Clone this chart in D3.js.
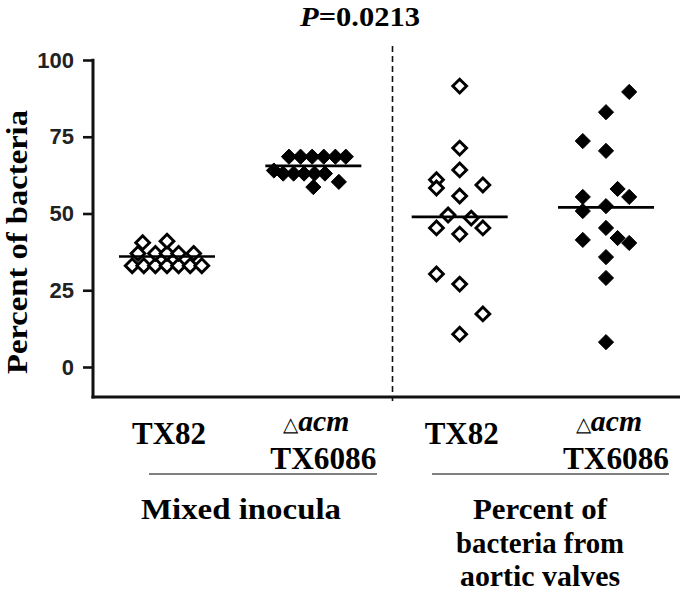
<!DOCTYPE html>
<html><head><meta charset="utf-8">
<script src="https://cdn.jsdelivr.net/npm/d3@7"></script>
<style>body{margin:0;background:#fff}svg{display:block}
.serif{font-family:"Liberation Serif","Times New Roman",Times,serif;font-weight:bold}
.sans{font-family:"Liberation Sans",Arial,Helvetica,sans-serif;font-weight:bold}
</style>
</head><body>
<svg id="c" width="680" height="595"></svg>
<script>
// ---------- data ----------
const categories = ["mixTX82", "mixAcm", "valveTX82", "valveAcm"];
const strainTop = ["TX82", "acm", "TX82", "acm"];
const strainBottom = ["", "TX6086", "", "TX6086"];
const groupLabels = [["Mixed inocula"], ["Percent of", "bacteria from", "aortic valves"]];
const yTicks = [0, 25, 50, 75, 100];
const titleText = "=0.0213";

const mixTX82Values = [33, 33, 33, 33, 33, 33, 33, 37, 37, 37, 37, 37, 40.5, 41];
const mixTX82Column = [-3, -2, -1, 0, 1, 2, 3, -2.5, -1, 0, 1, 2.3, -2.1, 0];
const mixAcmValues = [68.5, 68.5, 68.5, 68.5, 68.5, 68.5, 64, 63, 63, 63, 63, 63, 60.3, 58.6];
const mixAcmColumn = [-2.1, -1.1, -0.1, 0.9, 1.9, 2.8, -3.4, -2.6, -1.7, -0.8, 0.1, 1.0, 2.2, 0];
const valveTX82Values = [91.5, 71.3, 64.2, 61, 58.3, 59.3, 55.7, 49.5, 48.5, 45.3, 45.3, 43.3, 30.3, 27, 17.3, 10.7];
const valveTX82Column = [0, 0, 0, -2, -2, 2, 0, -1, 1, -2, 2, 0, -2, 0, 2, 0];
const valveAcmValues = [89.6, 83, 73.6, 70.4, 58, 55.4, 55.4, 50.8, 52.4, 45.3, 42, 40.4, 41.4, 35.8, 29, 8.1];
const valveAcmColumn = [2, 0, -2, 0, 1, 2, -2, -2, 0, 0, 1, 2, -2, 0, 0, 0];
const medians = [36, 65.5, 48.9, 52];

const seriesValues = [mixTX82Values, mixAcmValues, valveTX82Values, valveAcmValues];
const seriesColumns = [mixTX82Column, mixAcmColumn, valveTX82Column, valveAcmColumn];

// ---------- chart ----------
const svg = d3.select("#c");

const y = d3.scaleLinear().domain([0, 100]).range([367, 60]);
const x = d3.scalePoint().domain(categories).range([167, 606]);
const col = d3.scaleLinear().domain([0, 1]).range([0, 11.6]);
const axisLeftX = 93, axisBottomY = 397;

// y axis
const ya = svg.append("g").attr("transform", `translate(${axisLeftX},0)`)
  .call(d3.axisLeft(y).tickValues(yTicks).tickSize(10).tickSizeOuter(0).tickPadding(9));
ya.select(".domain").remove();
ya.attr("font-family", null);
ya.selectAll(".tick line").attr("stroke", "#111").attr("stroke-width", 2.6);
ya.selectAll(".tick text").attr("class", "sans").attr("font-size", 22).attr("fill", "#222");
svg.append("line").attr("x1", axisLeftX).attr("x2", axisLeftX)
  .attr("y1", y(100) - 1.3).attr("y2", axisBottomY + 1.5)
  .attr("stroke", "#111").attr("stroke-width", 3);
svg.append("line").attr("x1", axisLeftX - 1.5).attr("x2", 680)
  .attr("y1", axisBottomY).attr("y2", axisBottomY)
  .attr("stroke", "#111").attr("stroke-width", 3);

// dashed separator
const sepX = (x(categories[1]) + x(categories[2])) / 2 + 6;
svg.append("line").attr("x1", sepX).attr("x2", sepX).attr("y1", 46).attr("y2", axisBottomY + 4)
  .attr("stroke", "#111").attr("stroke-width", 1.6).attr("stroke-dasharray", "6,4");

// markers
const diamond = { draw(ctx, size) { const r = Math.sqrt(size / 2); ctx.moveTo(0, -r); ctx.lineTo(r, 0); ctx.lineTo(0, r); ctx.lineTo(-r, 0); ctx.closePath(); } };
categories.forEach((c, i) => {
  const open = strainTop[i] === "TX82";
  const pts = seriesValues[i].map((v, k) => ({ v, c: seriesColumns[i][k] }));
  svg.append("g").selectAll("path").data(pts).join("path")
    .attr("d", d3.symbol().type(diamond).size(open ? 95 : 115))
    .attr("transform", d => `translate(${x(c) + col(d.c)},${y(d.v)})`)
    .attr("fill", open ? "#fff" : "#000")
    .attr("stroke", "#000").attr("stroke-width", open ? 2.9 : 1);
  svg.append("line").attr("x1", x(c) - 48).attr("x2", x(c) + 48)
    .attr("y1", y(medians[i])).attr("y2", y(medians[i]))
    .attr("stroke", "#000").attr("stroke-width", 2.6);
});

// title
const t = svg.append("text").attr("class", "serif").attr("x", 300).attr("y", 26)
  .attr("font-size", 27).attr("textLength", 120).attr("lengthAdjust", "spacingAndGlyphs");
t.append("tspan").attr("font-style", "italic").text("P");
t.append("tspan").text(titleText);

// y title
svg.append("text").attr("class", "serif").attr("transform", `translate(27,242) rotate(-90)`).attr("text-anchor", "middle")
  .attr("font-size", 29).attr("textLength", 264).attr("lengthAdjust", "spacingAndGlyphs").text("Percent of bacteria");

// category labels
const lab = (txt, cx, by, w) => svg.append("text").attr("class", "serif").attr("x", cx - w / 2).attr("y", by)
  .attr("font-size", 32).attr("textLength", w).attr("lengthAdjust", "spacingAndGlyphs").text(txt);
categories.forEach((c, i) => {
  if (strainTop[i] === "TX82") {
    lab("TX82", x(c) + 2, 444, 74);
  } else {
    const tt = svg.append("text").attr("class", "serif").attr("x", x(c) - 30).attr("y", 431)
      .attr("font-size", 30).attr("textLength", 66).attr("lengthAdjust", "spacingAndGlyphs");
    tt.append("tspan").attr("class", "sans").style("font-weight", "normal").attr("font-size", 20).text("\u25B3");
    tt.append("tspan").attr("font-style", "italic").text(strainTop[i]);
    lab(strainBottom[i], x(c) + 10, 469, 106);
  }
});
// group underlines and labels
const groupSpans = [[149, 377], [432, 669]];
groupSpans.forEach((s) => {
  svg.append("line").attr("x1", s[0]).attr("x2", s[1]).attr("y1", 474).attr("y2", 474)
    .attr("stroke", "#555").attr("stroke-width", 1.6);
});
const glabW = [[200], [134, 168, 160]];
const glabX = [241, 540];
groupLabels.forEach((lines, g) => {
  lines.forEach((ln, k) => {
    svg.append("text").attr("class", "serif").attr("x", glabX[g]).attr("y", 519 + k * 33.5).attr("text-anchor", "middle")
      .attr("font-size", 30).attr("textLength", glabW[g][k]).attr("lengthAdjust", "spacingAndGlyphs").text(ln);
  });
});
</script>
</body></html>
